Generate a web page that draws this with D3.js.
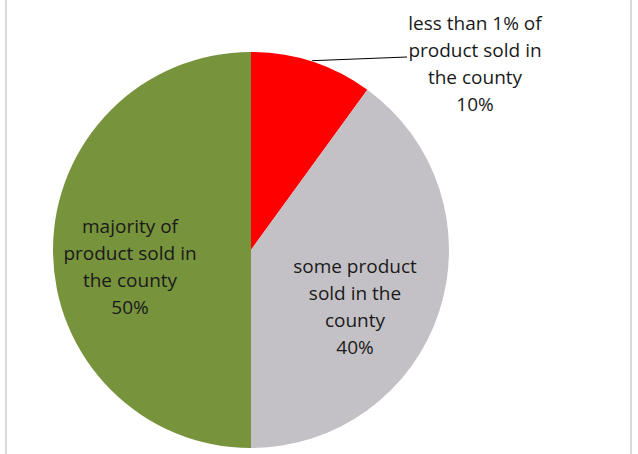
<!DOCTYPE html>
<html>
<head>
<meta charset="utf-8">
<script src="https://cdn.jsdelivr.net/npm/d3@7"></script>
<style>
  html, body { margin: 0; padding: 0; background: #fff; }
  svg { display: block; }
</style>
</head>
<body>
<svg id="chart" width="638" height="454"></svg>
<script>
// Share of product sold in the county
const categories = [
  "less than 1% of product sold in the county",
  "some product sold in the county",
  "majority of product sold in the county"
];
const values = [10, 40, 50];
const colors = ["#FF0000", "#C4C1C6", "#77933C"];
// Label lines as wrapped in each data label
const labelLines = [
  ["less than 1% of", "product sold in", "the county"],
  ["some product", "sold in the", "county"],
  ["majority of", "product sold in", "the county"]
];

const W = 638, H = 454;
const cx = 251, cy = 250, R = 198;

const svg = d3.select("#chart");

// Chart-area frame (left and right edges are visible)
svg.append("line").attr("x1", 6).attr("x2", 6).attr("y1", 0).attr("y2", H)
  .attr("stroke", "#D9D9D9").attr("stroke-width", 2);
svg.append("line").attr("x1", 631).attr("x2", 631).attr("y1", 0).attr("y2", H)
  .attr("stroke", "#D9D9D9").attr("stroke-width", 2);

const data = categories.map((c, i) => ({ name: c, value: values[i], color: colors[i], lines: labelLines[i] }));

const pie = d3.pie().value(d => d.value).sort(null);
const arcs = pie(data);
const arc = d3.arc().innerRadius(0).outerRadius(R);

const g = svg.append("g").attr("transform", `translate(${cx},${cy})`);

g.selectAll("path.slice")
  .data(arcs)
  .join("path")
  .attr("class", "slice")
  .attr("d", arc)
  .attr("fill", d => d.data.color);

// Label centres (relative to the pie centre)
const labelPos = [
  { x: 224, y: -186 },  // outside, with leader line
  { x: 104, y: 57 },
  { x: -121, y: 17 }
];
const lineH = 27;

// Leader line for the small slice
const smallArc = arcs[0];
const midA = (smallArc.startAngle + smallArc.endAngle) / 2;
const px = Math.sin(midA) * R, py = -Math.cos(midA) * R;
g.append("polyline")
  .attr("points", `${px},${py - 1} ${156},${-193}`)
  .attr("fill", "none")
  .attr("stroke", "#000")
  .attr("stroke-width", 1);

arcs.forEach((a, i) => {
  const lines = a.data.lines.concat([a.data.value + "%"]);
  const p = labelPos[i];
  const n = lines.length;
  const t = g.append("text")
    .attr("text-anchor", "middle")
    .attr("font-family", "'Open Sans', 'Liberation Sans', sans-serif")
    .attr("font-size", 19)
    .attr("fill", "#1A1A1A");
  lines.forEach((ln, k) => {
    t.append("tspan")
      .attr("x", p.x)
      .attr("y", p.y + (k - (n - 1) / 2) * lineH)
      .attr("dy", "0.35em")
      .text(ln);
  });
});
</script>
</body>
</html>
